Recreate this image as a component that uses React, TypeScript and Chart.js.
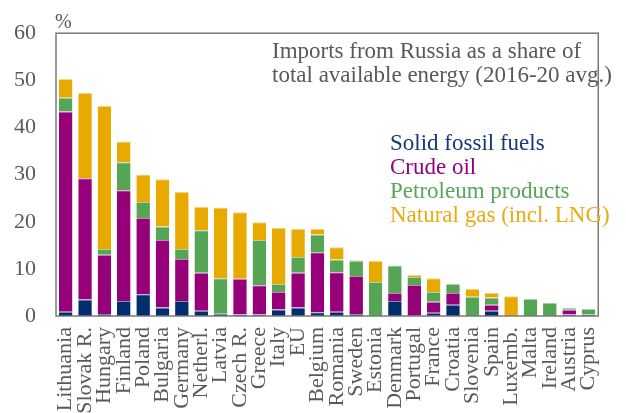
import React, { useEffect, useRef } from "react";
import { Chart, registerables } from "chart.js";
Chart.register(...registerables);

const categories = [
  "Lithuania", "Slovak R.", "Hungary", "Finland", "Poland", "Bulgaria", "Germany",
  "Netherl.", "Latvia", "Czech R.", "Greece", "Italy", "EU", "Belgium", "Romania",
  "Sweden", "Estonia", "Denmark", "Portugal", "France", "Croatia", "Slovenia",
  "Spain", "Luxemb.", "Malta", "Ireland", "Austria", "Cyprus",
];

const solidFossil = [0.9, 3.5, 0.4, 3.2, 4.6, 1.8, 3.2, 1.1, 0.5, 0.3, 0.3, 1.4, 1.8, 0.8, 0.9, 0.4, 0, 3.2, 0.2, 0.7, 2.4, 0, 1.1, 0, 0, 0, 0.3, 0.3];
const crudeOil = [42.5, 25.7, 12.6, 23.5, 16.2, 14.3, 8.9, 8.1, 0, 7.6, 6.2, 3.7, 7.4, 12.7, 8.4, 8.1, 0, 1.7, 6.4, 2.3, 2.5, 0, 1.3, 0, 0, 0, 1.0, 0];
const petroleum = [2.9, 0, 1.2, 5.9, 3.4, 2.9, 2.1, 9.0, 7.5, 0, 9.6, 1.7, 3.3, 3.8, 2.7, 3.2, 7.2, 5.8, 1.7, 2.1, 1.9, 4.1, 1.5, 0, 3.6, 2.8, 0.4, 1.2];
const naturalGas = [4.0, 18.1, 30.4, 4.4, 5.8, 10.0, 12.1, 5.0, 15.0, 14.1, 3.8, 11.9, 6.0, 1.2, 2.6, 0.2, 4.5, 0, 0.4, 2.9, 0, 1.7, 1.0, 4.2, 0, 0, 0, 0];

const yTicks = [0, 10, 20, 30, 40, 50, 60];
const titleLines = ["Imports from Russia as a share of", "total available energy (2016-20 avg.)"];
const legendLabels = ["Solid fossil fuels", "Crude oil", "Petroleum products", "Natural gas (incl. LNG)"];

const FONT = "'Liberation Serif', 'Times New Roman', serif";
const TEXT = "#595959";
const COLORS = ["#002d6e", "#960078", "#55a555", "#e8aa00"];
const TINTS = ["#7f8fb0", "#c87fbb", "#aad2aa", "#f3d57f"];
const LEGEND_COLORS = ["#16397a", "#960080", "#58a658", "#e9ab12"];

export default function App() {
  const ref = useRef<HTMLCanvasElement>(null);
  useEffect(() => {
    document.body.style.margin = "0";
    const overlay = {
      id: "overlay",
      afterDatasetsDraw(chart: any) {
        const { ctx, chartArea: a } = chart;
        ctx.save();
        ctx.strokeStyle = "#7a7a7a";
        ctx.lineWidth = 1.5;
        ctx.strokeRect(a.left, a.top, a.right - a.left, a.bottom - a.top);
        ctx.restore();
      },
      afterDraw(chart: any) {
        const { ctx } = chart;
        ctx.save();
        ctx.textBaseline = "alphabetic";
        ctx.textAlign = "left";
        ctx.fillStyle = TEXT;
        ctx.font = `20px ${FONT}`;
        ctx.fillText("%", 55, 28);
        ctx.font = `23px ${FONT}`;
        titleLines.forEach((t, i) => ctx.fillText(t, 272, 58 + i * 24));
        legendLabels.forEach((t, i) => {
          ctx.fillStyle = LEGEND_COLORS[i];
          ctx.fillText(t, 390, 150 + i * 24);
        });
        ctx.restore();
      },
    };
    const series = [solidFossil, crudeOil, petroleum, naturalGas];
    const chart = new Chart(ref.current as HTMLCanvasElement, {
      type: "bar",
      data: {
        labels: categories,
        datasets: series.map((d, i) => ({
          label: legendLabels[i],
          data: d,
          backgroundColor: COLORS[i],
          borderColor: TINTS[i],
          borderWidth: { top: 1, left: 0, right: 0, bottom: 0 },
          borderSkipped: false,
          barPercentage: 0.7,
          categoryPercentage: 1,
        })),
      },
      options: {
        responsive: false,
        maintainAspectRatio: false,
        animation: false,
        layout: { padding: { top: 32, right: 2, left: 0, bottom: 0 } },
        plugins: {
          legend: { display: false },
          title: { display: false },
          tooltip: { enabled: false },
        },
        scales: {
          x: {
            stacked: true,
            grid: { display: false, drawTicks: false },
            border: { display: false },
            ticks: {
              autoSkip: false,
              minRotation: 90,
              maxRotation: 90,
              padding: 11,
              color: TEXT,
              font: { family: FONT, size: 22 },
            },
            afterFit(s: any) { s.height = 97; },
          },
          y: {
            stacked: true,
            min: 0,
            max: 60,
            afterBuildTicks(s: any) { s.ticks = yTicks.map((v) => ({ value: v })); },
            ticks: {
              padding: 20,
              color: TEXT,
              font: { family: FONT, size: 22 },
            },
            grid: { display: false, drawTicks: false },
            border: { display: false },
            afterFit(s: any) { s.width = 56; },
          },
        },
      },
      plugins: [overlay],
    } as any);
    return () => chart.destroy();
  }, []);
  return (
    <div style={{ position: "absolute", left: 0, top: 0, width: 626, height: 413 }}>
      <canvas ref={ref} width={626} height={413} style={{ display: "block" }} />
    </div>
  );
}
